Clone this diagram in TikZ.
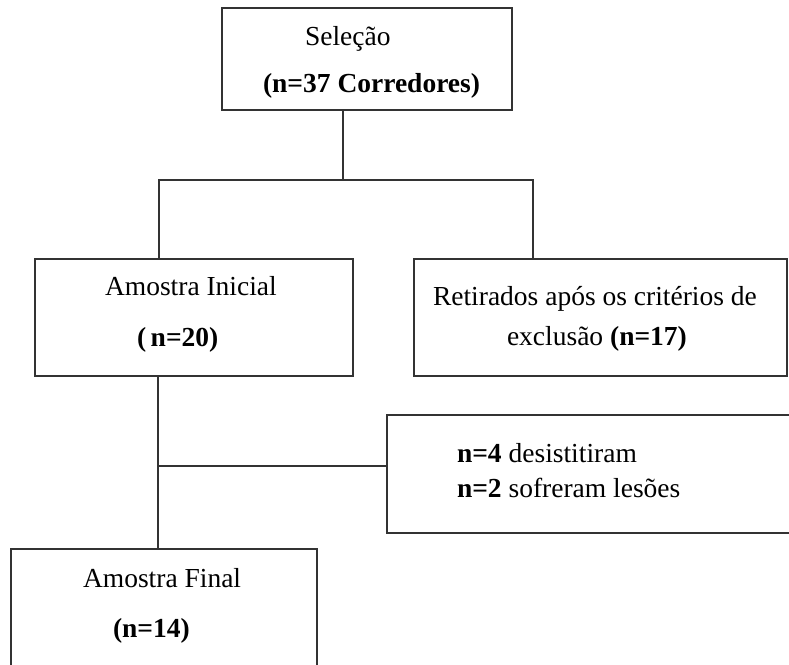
\documentclass[tikz,border=0pt]{standalone}
\usepackage{fontspec}
\setmainfont{Liberation Serif}
\begin{document}
\begin{tikzpicture}[x=1pt,y=-1pt,
  box/.style={draw=black!80, line width=1.8pt, rectangle, inner sep=0pt, outer sep=0pt},
  conn/.style={draw=black!80, line width=1.8pt},
  lbl/.style={anchor=base west, inner sep=0pt, outer sep=0pt, font=\fontsize{27.5}{30}\selectfont}]
\clip (0,0) rectangle (789,664);
\fill[white] (0,0) rectangle (789,664);
% boxes
\node[box, minimum width=290pt, minimum height=102pt] (sel) at (367,59) {};
\node[box, minimum width=318pt, minimum height=117pt] (ini) at (194,317.5) {};
\node[box, minimum width=373pt, minimum height=117pt] (ret) at (600.5,317.5) {};
\node[box, minimum width=413pt, minimum height=118pt] (exc) at (593.5,474) {};
\node[box, minimum width=306pt, minimum height=131pt] (fin) at (164,614.5) {};
% junction points
\coordinate (stem) at (343,180);
\coordinate (jl) at (159,180);
\coordinate (jr) at (533,180);
\coordinate (jm) at (158,466);
% connectors
\draw[conn] (sel.south -| stem) -- (stem);
\draw[conn] (ini.north -| jl) -- (jl) -- (jr) -- (ret.north -| jr);
\draw[conn] (ini.south -| jm) -- (fin.north -| jm);
\draw[conn] (jm) -- (exc.west |- jm);
% texts
\node[lbl] (t1) at (305,45) {Seleção};
\node[lbl] (t2) at (263,92.5) {\textbf{(n=37 Corredores)}};
\node[lbl] (t3) at (105,295) {Amostra Inicial};
\node[lbl] (t4) at (137,346) {\textbf{(\,n=20)}};
\node[lbl] (t5) at (433,305) {Retirados após os critérios de};
\node[lbl] (t6) at (507,345) {exclusão \textbf{(n=17)}};
\node[lbl] (t7) at (457,462) {\textbf{n=4} desistitiram};
\node[lbl] (t8) at (457,497.5) {\textbf{n=2} sofreram lesões};
\node[lbl] (t9) at (83,587) {Amostra Final};
\node[lbl] (t10) at (113,637) {\textbf{(n=14)}};
\end{tikzpicture}
\end{document}
